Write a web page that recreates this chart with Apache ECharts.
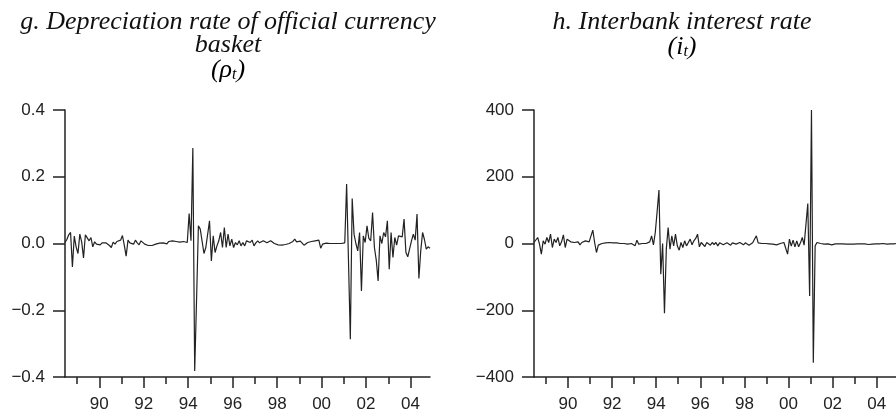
<!DOCTYPE html>
<html><head><meta charset="utf-8">
<script src="https://cdn.jsdelivr.net/npm/echarts@6/dist/echarts.min.js"></script>
<style>html,body{margin:0;padding:0;background:#fff}#c{width:896px;height:414px}</style>
</head><body><div id="c"></div>
<script>
// Monthly data, 1988:06 .. 2004:11
const startYear = 1988, startMonth = 6;
const majorTicks = [90, 92, 94, 96, 98, 100, 102, 104];
const minorTicks = [89, 91, 93, 95, 97, 99, 101, 103];

// g. Depreciation rate of official currency basket (rho_t)
const rho = [
 0.003, 0.012, 0.026, 0.033, -0.07, 0.022, -0.01, -0.03, 0.028, 0.005,
 -0.043, 0.026, 0.028, 0.008, 0.018, -0.01, 0.005, -0.002, 0.003, -0.004,
 0.002, -0.003, 0.002, 0.0, -0.006, -0.012, 0.004, -0.002, 0.006, 0.005,
 0.01, 0.024, -0.005, -0.038, 0.01, 0.002, 0.006, -0.002, 0.01, 0.002,
 -0.004, 0.008, 0.011, -0.002, -0.003, -0.006, -0.005, -0.006, -0.004, -0.002,
 0.003, 0.001, 0.006, 0.002, 0.003, -0.001, 0.006, 0.004, 0.008, 0.004,
 0.006, 0.008, 0.004, 0.003, 0.006, 0.004, 0.003, 0.09, 0.008, 0.286,
 -0.382, -0.17, 0.053, 0.043, 0.048, -0.03, -0.012, -0.015, 0.068, -0.052,
 0.023, -0.027, -0.007, 0.008, 0.033, -0.012, 0.048, -0.012, 0.028, -0.007,
 0.013, -0.012, 0.003, -0.004, 0.008, -0.007, 0.003, -0.007, 0.008, 0.013,
 0.003, 0.01, -0.007, 0.002, 0.008, 0.002, 0.003, 0.008, 0.01, 0.002,
 0.003, 0.008, 0.004, 0.0, -0.002, -0.004, -0.005, -0.005, -0.005, -0.003,
 -0.001, 0.0, 0.001, 0.006, 0.013, 0.005, 0.003, 0.007, 0.008, -0.005,
 -0.003, 0.003, 0.005, 0.006, 0.008, 0.008, 0.009, 0.01, -0.014, -0.002,
 0.001, 0.001, 0.0, 0.0, 0.0, 0.0, 0.001, 0.0, 0.0, 0.0,
 0.001, 0.002, 0.178, -0.05, -0.287, 0.135, 0.028, 0.0, -0.022, 0.033,
 -0.142, 0.023, 0.003, 0.053, 0.015, 0.008, 0.093, -0.012, -0.05, -0.112,
 0.023, 0.0, 0.033, 0.02, 0.068, -0.077, 0.033, -0.042, 0.018, -0.005,
 0.023, 0.018, 0.02, 0.073, -0.027, -0.04, -0.042, 0.008, 0.028, 0.01,
 0.088, -0.105, -0.022, 0.033, 0.012, -0.017, -0.01, -0.014
];

// h. Interbank interest rate (i_t)
const irate = [
 3, 3, 18, -2, -32, 8, -2, 18, 3, 28,
 -12, 13, 3, 18, -7, 5, 26, -12, 13, 10,
 5, 10, 3, -2, 5, -4, 3, 5, 8, 3,
 5, 10, 40, 3, -27, -5, 0, 0, 1, 2,
 0, 3, 1, 2, 4, 2, 4, 0, -2, 0,
 2, -2, 0, 0, -4, -7, 10, -2, 0, 0,
 2, 0, 3, 5, 23, -4, 33, 95, 160, -92,
 0, -209, -17, 48, -17, 23, -7, 28, -7, -20,
 3, -12, 8, -7, 3, 13, -4, 8, 15, 28,
 -10, 3, -2, -9, 3, -2, -5, 3, -3, 3,
 -7, 2, 3, -4, -4, 2, 1, -5, 2, 3,
 -2, 0, 3, 3, -4, 2, 4, -5, -7, 2,
 3, 23, 2, 3, 0, 0, 0, 0, -1, -2,
 -2, -3, -4, -2, 0, 3, 3, 8, -32, 13,
 -8, 10, -10, 8, -10, 2, 18, -5, -5, 120,
 -157, 400, -357, -7, 3, -2, 0, -1, -2, -2,
 -1, -3, -4, -2, -1, 0, -1, -2, -1, -1,
 -2, -3, -2, -3, -2, -1, -1, -2, -1, 0,
 -1, -2, -3, -1, -2, 0, -1, -2, -1, -1,
 0, -1, -2, -1, -1, 0, -1, 0
];

// time position (two-digit-year scale, mid-month)
const months = rho.map((_, i) => {
  const m = startMonth - 1 + i;
  return (startYear - 1900) + Math.floor(m / 12) + ((m % 12) + 0.5) / 12;
});
const xMin = months[0], xMax = months[months.length - 1];

const INK = '#222';
const labelFont = { color: INK, fontSize: 17, fontFamily: '"Liberation Sans", Arial, sans-serif' };
const yearFmt = v => String(Math.round(v) % 100).padStart(2, '0');

function xAxesFor(g) {
  return [
    { type: 'value', gridIndex: g, min: xMin, max: xMax, position: 'bottom',
      axisLine: { show: true, onZero: false, lineStyle: { color: INK, width: 1.5 } },
      axisTick: { show: true, customValues: majorTicks, length: 11, lineStyle: { color: INK, width: 1.5 } },
      axisLabel: Object.assign({ customValues: majorTicks, formatter: yearFmt, margin: 19 }, labelFont),
      splitLine: { show: false } },
    { type: 'value', gridIndex: g, min: xMin, max: xMax, position: 'bottom',
      axisLine: { show: false, onZero: false },
      axisTick: { show: true, customValues: minorTicks, length: 7, lineStyle: { color: INK, width: 1.5 } },
      axisLabel: { show: false },
      splitLine: { show: false } }
  ];
}
function yAxisFor(g, min, max, interval, fmt) {
  return { type: 'value', gridIndex: g, min, max, interval,
    axisLine: { show: true, lineStyle: { color: INK, width: 1.5 } },
    axisTick: { show: true, length: 12, lineStyle: { color: INK, width: 1.5 } },
    axisLabel: Object.assign({ formatter: fmt, margin: 20 }, labelFont),
    splitLine: { show: false } };
}
const titleFont = 'italic 26px "Liberation Serif", "Times New Roman", serif';
function tline(x, y, text) {
  return { type: 'text', x, y, style: { text, font: titleFont, fill: '#111', textAlign: 'center', textVerticalAlign: 'middle' } };
}
function tsub(x, y, main, sub) {
  return { type: 'text', x, y, style: {
    text: '{a|(' + main + '}{b|' + sub + '}{a|)}', textAlign: 'center', textVerticalAlign: 'middle',
    rich: {
      a: { fontSize: 26, fontStyle: 'italic', fontFamily: 'Liberation Serif', color: '#111', lineHeight: 28, verticalAlign: 'bottom' },
      b: { fontSize: 16, fontStyle: 'italic', fontFamily: 'Liberation Serif', color: '#111', lineHeight: 12, verticalAlign: 'bottom' }
    } } };
}

const chart = echarts.init(document.getElementById('c'), null, { renderer: 'canvas' });
chart.setOption({
  animation: false,
  backgroundColor: '#fff',
  grid: [
    { left: 65, top: 110, width: 365, height: 267 },
    { left: 534, top: 110, width: 365, height: 267 }
  ],
  xAxis: xAxesFor(0).concat(xAxesFor(1)),
  yAxis: [
    yAxisFor(0, -0.4, 0.4, 0.2, v => Math.abs(v) < 1e-9 ? '0.0' : v.toFixed(1).replace('-', '\u2212')),
    yAxisFor(1, -400, 400, 200, v => String(Math.round(v)).replace('-', '\u2212'))
  ],
  series: [
    { type: 'line', xAxisIndex: 0, yAxisIndex: 0, symbol: 'none', data: months.map((t, i) => [t, rho[i]]),
      lineStyle: { color: INK, width: 1.2 } },
    { type: 'line', xAxisIndex: 2, yAxisIndex: 1, symbol: 'none', data: months.map((t, i) => [t, irate[i]]),
      lineStyle: { color: INK, width: 1.2 } }
  ],
  graphic: [
    tline(228, 22, 'g. Depreciation rate of official currency'),
    tline(228, 45, 'basket'),
    tsub(228, 69, 'ρ', 't'),
    tline(682, 22, 'h. Interbank interest rate'),
    tsub(682, 46, 'i', 't')
  ]
});
</script></body></html>
